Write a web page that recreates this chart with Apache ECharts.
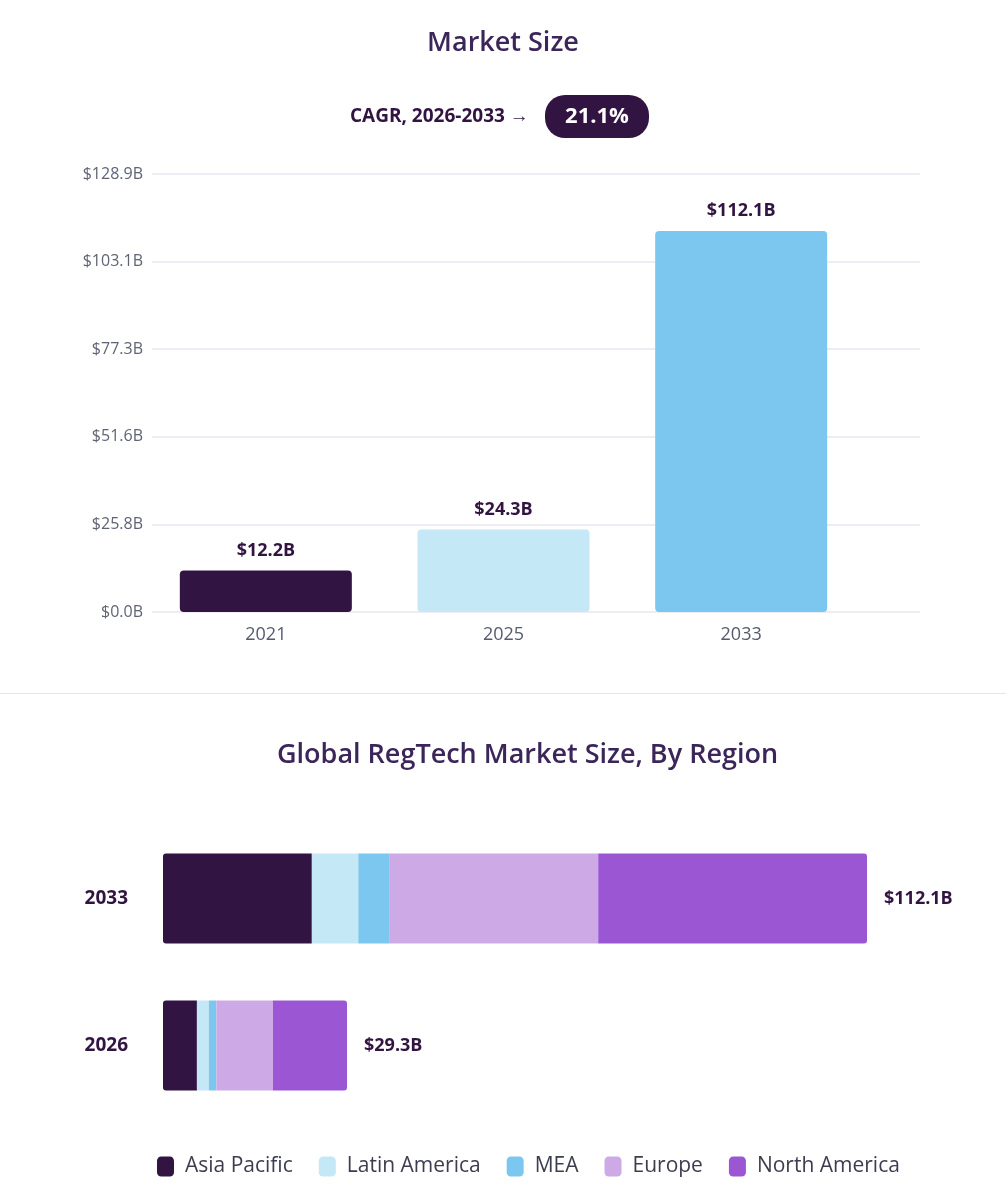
<!DOCTYPE html>
<html>
<head>
<meta charset="utf-8">
<script src="https://cdn.jsdelivr.net/npm/echarts@6/dist/echarts.min.js"></script>
<style>
    html, body {
        margin: 0;
        padding: 0;
        background: #ffffff;
    }

    #myChart {
        width: 1006px;
        height: 1204px;
    }
</style>
</head>
<body>
<div id="myChart"></div>
<script>
    // market size chart
    const years = ['2021', '2025', '2033'];
    const marketValues = [12.2, 24.3, 112.1];
    const barColors = ['#321442', '#c5e8f7', '#7cc7f0'];
    const yMax = 128.9;
    const yStep = 25.78;

    // by region chart
    const regionYears = ['2033', '2026'];
    const regionTotals = [112.1, 29.3];
    const regions = ['Asia Pacific', 'Latin America', 'MEA', 'Europe', 'North America'];
    const regionColors = ['#321442', '#c5e8f7', '#7cc7f0', '#cdaae6', '#9b57d3'];
    const asiaPacific = [23.7, 5.4];
    const latinAmerica = [7.4, 1.9];
    const mea = [4.9, 1.2];
    const europe = [33.3, 9.0];
    const northAmerica = [42.8, 11.8];
    const regionValues = [asiaPacific, latinAmerica, mea, europe, northAmerica];

    const fontFamily = '"Open Sans", "Noto Sans", sans-serif';
    const dark = '#321442';

    let myChart = echarts.init(document.getElementById('myChart'));

    let regionSeries = regions.map(function (name, i) {
        let radius = 0;
        if (i === 0) radius = [3, 0, 0, 3];
        if (i === regions.length - 1) radius = [0, 3, 3, 0];
        let s = {
            name: name,
            type: 'bar',
            stack: 'region',
            xAxisIndex: 2,
            yAxisIndex: 2,
            barWidth: 90,
            data: regionValues[i],
            itemStyle: { color: regionColors[i], borderRadius: radius }
        };
        if (i === regions.length - 1) {
            s.label = {
                show: true,
                position: 'right',
                distance: 17,
                fontFamily: fontFamily,
                fontWeight: 'bold',
                fontSize: 18,
                color: dark,
                formatter: function (p) {
                    return '$' + regionTotals[p.dataIndex].toFixed(1) + 'B';
                }
            };
        }
        return s;
    });

    let option = {
        animation: false,
        textStyle: { fontFamily: fontFamily },
        title: [
            {
                text: 'Market Size',
                left: 'center',
                top: 25,
                textStyle: { fontSize: 27, fontWeight: 600, color: '#3b2559', fontFamily: fontFamily }
            },
            {
                text: 'Global RegTech Market Size, By Region',
                left: 272,
                top: 737,
                textStyle: { fontSize: 27, fontWeight: 600, color: '#3b2559', fontFamily: fontFamily }
            }
        ],
        legend: {
            bottom: 22,
            left: 152,
            itemWidth: 17,
            itemHeight: 20,
            itemGap: 26,
            icon: 'roundRect',
            data: regions,
            textStyle: { fontSize: 21, color: '#3d3d50', fontFamily: fontFamily, padding: [0, 0, 0, 6] }
        },
        graphic: [
            {
                type: 'text',
                x: 350,
                y: 117,
                style: {
                    text: 'CAGR, 2026-2033 \u2192',
                    fontFamily: fontFamily,
                    fontSize: 19,
                    fontWeight: 'bold',
                    fill: dark,
                    verticalAlign: 'middle'
                }
            },
            {
                type: 'rect',
                left: 545,
                top: 95,
                shape: { width: 104, height: 43, r: 20 },
                style: { fill: dark }
            },
            {
                type: 'text',
                x: 597,
                y: 117,
                style: {
                    text: '21.1%',
                    fontFamily: fontFamily,
                    fontSize: 22,
                    fontWeight: 'bold',
                    fill: '#ffffff',
                    align: 'center',
                    verticalAlign: 'middle'
                }
            },
            {
                type: 'rect',
                left: 0,
                top: 693,
                shape: { width: 1006, height: 1 },
                style: { fill: '#e6e3ef' }
            }
        ],
        grid: [
            // gridlines area
            { left: 152, right: 86, top: 174, height: 438 },
            // bars area
            { left: 147, width: 713, top: 174, height: 438 },
            // region bars
            { left: 163, width: 704, top: 825, height: 294 }
        ],
        xAxis: [
            {
                gridIndex: 0,
                type: 'category',
                data: years,
                show: false
            },
            {
                gridIndex: 1,
                type: 'category',
                data: years,
                axisLine: { show: false },
                axisTick: { show: false },
                axisLabel: { fontSize: 18, color: '#555b6e', margin: 14 }
            },
            {
                gridIndex: 2,
                type: 'value',
                min: 0,
                max: 112.1,
                show: false
            }
        ],
        yAxis: [
            {
                gridIndex: 0,
                type: 'value',
                min: 0,
                max: yMax,
                interval: yStep,
                axisLine: { show: false },
                axisTick: { show: false },
                splitLine: { lineStyle: { color: '#eeedf4', width: 2 } },
                axisLabel: {
                    fontSize: 16,
                    color: '#5f6475',
                    margin: 9,
                    formatter: function (v) {
                        return '$' + v.toFixed(1) + 'B';
                    }
                }
            },
            {
                gridIndex: 1,
                type: 'value',
                min: 0,
                max: yMax,
                show: false
            },
            {
                gridIndex: 2,
                type: 'category',
                data: regionYears,
                inverse: true,
                axisLine: { show: false },
                axisTick: { show: false },
                axisLabel: { fontSize: 19, fontWeight: 'bold', color: dark, margin: 35 }
            }
        ],
        series: [
            {
                name: 'Market Size',
                type: 'bar',
                xAxisIndex: 1,
                yAxisIndex: 1,
                barWidth: 172,
                data: marketValues.map(function (v, i) {
                    return { value: v, itemStyle: { color: barColors[i] } };
                }),
                itemStyle: { borderRadius: 4 },
                label: {
                    show: true,
                    position: 'top',
                    distance: 11,
                    fontSize: 18,
                    fontWeight: 'bold',
                    color: dark,
                    formatter: function (p) {
                        return '$' + p.value.toFixed(1) + 'B';
                    }
                }
            }
        ].concat(regionSeries)
    };

    myChart.setOption(option);
</script>
</body>
</html>
